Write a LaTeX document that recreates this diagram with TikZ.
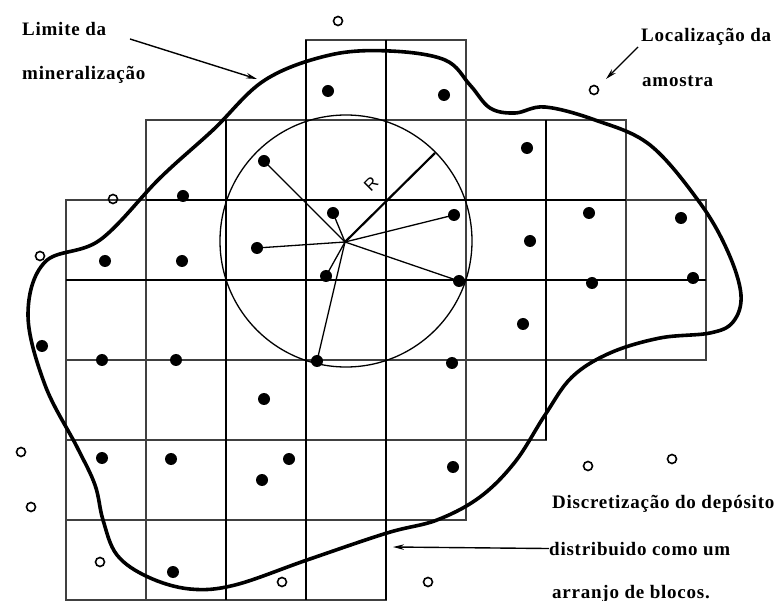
\documentclass[tikz,border=0pt]{standalone}
\usepackage{fontspec}
\setmainfont{Liberation Serif}
\newfontfamily\labelfont[LetterSpace=4]{Liberation Serif}
\newfontfamily\radfont{Liberation Sans}
\usetikzlibrary{arrows.meta}

\begin{document}
\begin{tikzpicture}[x=1pt, y=-1pt,
  every node/.style={inner sep=0pt},
  cell/.style={draw=black!75, line width=1.3pt},
  midline/.style={draw=black, line width=1.7pt},
  boldline/.style={draw=black, line width=2.2pt},
  limit/.style={draw=black, line width=3.6pt, line join=round},
  sample/.style={circle, fill=black, minimum size=12pt},
  hole/.style={circle, draw=black, line width=1.6pt, minimum size=9pt},
  ray/.style={draw=black, line width=1.3pt},
  pointer/.style={draw=black, line width=1.4pt, -{Stealth[length=11pt, width=5.5pt]}},
  lab/.style={font=\labelfont\bfseries\fontsize{19}{22}\selectfont, anchor=base west}
]
  \path[use as bounding box, fill=white] (0,0) rectangle (782,601);

  % blocks, row by row
  \foreach \y/\cols in {40/{306,386}, 120/{146,226,306,386,466,546},
      200/{66,146,226,306,386,466,546,626}, 280/{66,146,226,306,386,466,546,626},
      360/{66,146,226,306,386,466}, 440/{66,146,226,306,386}, 520/{66,146,226,306}}
    \foreach \x in \cols
      \draw[cell] (\x,\y) rectangle ++(80,80);

  % heavier block lines
  \draw[midline] (306,40) -- (306,600);
  \draw[midline] (146,200) -- (626,200);
  \draw[boldline] (226,120) -- (226,600);
  \draw[boldline] (386,40) -- (386,600);
  \draw[boldline] (546,120) -- (546,440);
  \draw[boldline] (66,280) -- (706,280);

  % search circle
  \coordinate (ctr) at (345,242);
  \coordinate (rend) at (435,153);
  \draw[ray] (346,241) circle[radius=126pt];
  \draw[boldline] (ctr) -- (rend);
  \node[font=\radfont\fontsize{17}{17}\selectfont, rotate=45] (rlab) at (371,184) {R};

  % mineralization limit
  \draw[limit] plot[smooth cycle, tension=0.6] coordinates {
    (28,315) (45,262) (100,240) (160,178) (213,130) (265,80) (330,55) (390,51)
    (445,60) (470,85) (490,108) (515,113) (545,107) (595,120) (650,145)
    (700,203) (728,252) (741,295) (733,322) (710,333) (660,338) (610,353)
    (572,377) (545,415) (515,462) (480,497) (437,520) (387,533) (307,560)
    (235,585) (190,589) (148,577) (117,555) (103,520) (95,485) (77,447) (45,385)};

  % samples inside the circle
  \node[sample] (r1) at (264,161) {};
  \node[sample] (r2) at (333,213) {};
  \node[sample] (r3) at (454,215) {};
  \node[sample] (r4) at (257,248) {};
  \node[sample] (r5) at (326,276) {};
  \node[sample] (r6) at (459,281) {};
  \node[sample] (r7) at (317,361) {};
  \foreach \r in {r1,r2,r3,r4,r5,r6,r7}
    \draw[ray] (ctr) -- (\r.center);

  % other samples
  \foreach \x/\y [count=\i] in {328/91, 444/95, 527/148, 183/196, 589/213, 681/218,
      530/241, 105/261, 182/261, 592/283, 693/278, 523/324, 42/346, 102/360,
      176/360, 452/363, 264/399, 102/458, 171/459, 289/459, 262/480, 453/467, 173/572}
    \node[sample] (s\i) at (\x,\y) {};

  % sample locations outside
  \foreach \x/\y [count=\i] in {338/21, 594/90, 113/199, 40/256, 21/452, 31/507,
      100/562, 282/582, 428/582, 588/466, 672/459}
    \node[hole] (h\i) at (\x,\y) {};

  % labels
  \node[lab] (lim1) at (22,36) {Limite da};
  \node[lab] (lim2) at (22,80) {mineralização};
  \node[lab] (loc1) at (641,42) {Localização da};
  \node[lab] (loc2) at (642,87) {amostra};
  \node[lab] (disc1) at (552,508) {Discretização do depósito};
  \node[lab] (disc2) at (549,555) {distribuido como um};
  \node[lab] (disc3) at (552,598) {arranjo de blocos.};

  % pointers
  \coordinate (limtail) at (130,39);
  \coordinate (limtip) at (257,79);
  \coordinate (loctail) at (638,47);
  \coordinate (loctip) at (606,79);
  \coordinate (disctip) at (393,547);
  \draw[pointer] (limtail) -- (limtip);
  \draw[pointer] (loctail) -- (loctip);
  \draw[pointer] (disc2.west) -- (disctip);
\end{tikzpicture}
\end{document}
